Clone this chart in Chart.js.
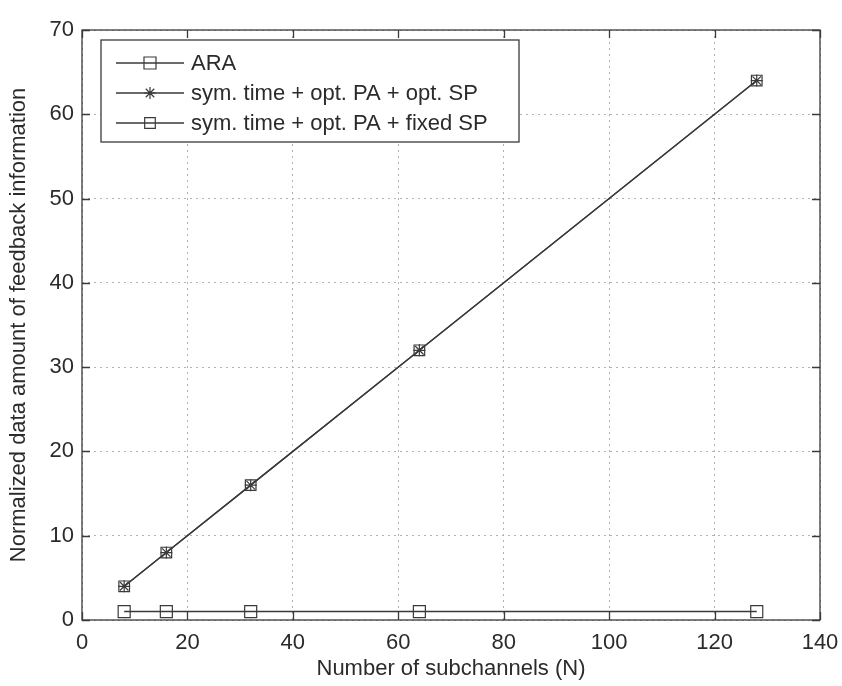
<!DOCTYPE html>
<html>
<head>
<meta charset="utf-8">
<script src="https://cdn.jsdelivr.net/npm/chart.js@4.4.0/dist/chart.umd.min.js"></script>
<style>
  html, body { margin: 0; padding: 0; background: #ffffff; }
  #wrap { width: 842px; height: 686px; }
</style>
</head>
<body>
<div id="wrap"><canvas id="chart" width="842" height="686"></canvas></div>
<script>
// number of subchannels N
const subchannels = [8, 16, 32, 64, 128];
// normalized feedback amount per scheme
const araFeedback = [1, 1, 1, 1, 1];
const optSpFeedback = [4, 8, 16, 32, 64];
const fixedSpFeedback = [4, 8, 16, 32, 64];

const xTicks = [0, 20, 40, 60, 80, 100, 120, 140];
const yTicks = [0, 10, 20, 30, 40, 50, 60, 70];

const FONT = "'Liberation Sans', Arial, Helvetica, sans-serif";
const INK = '#2b2b2b';
const LINE = '#3a3a3a';

const toPoints = (ys) => subchannels.map((n, i) => ({ x: n, y: ys[i] }));

// axes box with inward ticks on all four sides (MATLAB style)
const boxPlugin = {
    id: 'box',
    afterDatasetsDraw(chart) {
        const { ctx, chartArea: a, scales } = chart;
        const len = 8;
        ctx.save();
        ctx.strokeStyle = LINE;
        ctx.lineWidth = 1.3;
        ctx.setLineDash([]);
        ctx.strokeRect(a.left, a.top, a.right - a.left, a.bottom - a.top);
        ctx.beginPath();
        xTicks.forEach(v => {
            const px = Math.round(scales.x.getPixelForValue(v)) + 0.5;
            ctx.moveTo(px, a.bottom); ctx.lineTo(px, a.bottom - len);
            ctx.moveTo(px, a.top); ctx.lineTo(px, a.top + len);
        });
        yTicks.forEach(v => {
            const py = Math.round(scales.y.getPixelForValue(v)) + 0.5;
            ctx.moveTo(a.left, py); ctx.lineTo(a.left + len, py);
            ctx.moveTo(a.right, py); ctx.lineTo(a.right - len, py);
        });
        ctx.stroke();
        ctx.restore();
    }
};

// boxed legend in the upper left corner of the plot
const legendBox = {
    id: 'legendBox',
    afterDraw(chart) {
        const { ctx, chartArea: a } = chart;
        const left = a.left + 19, top = a.top + 10, w = 418, h = 102;
        ctx.save();
        ctx.fillStyle = '#ffffff';
        ctx.fillRect(left, top, w, h);
        ctx.strokeStyle = LINE;
        ctx.lineWidth = 1.3;
        ctx.strokeRect(left, top, w, h);
        chart.data.datasets.forEach((ds, i) => {
            const y = top + 23 + i * 30;
            ctx.strokeStyle = ds.borderColor;
            ctx.lineWidth = ds.borderWidth;
            ctx.beginPath();
            ctx.moveTo(left + 15, y);
            ctx.lineTo(left + 83, y);
            ctx.stroke();
            ctx.fillStyle = 'rgba(0,0,0,0)';
            ctx.strokeStyle = ds.pointBorderColor;
            ctx.lineWidth = ds.pointBorderWidth;
            Chart.helpers.drawPoint(ctx, {
                pointStyle: ds.pointStyle, radius: ds.pointRadius,
                rotation: 0, borderWidth: ds.pointBorderWidth
            }, left + 49, y);
            ctx.fillStyle = INK;
            ctx.font = '22px ' + FONT;
            ctx.textBaseline = 'middle';
            ctx.fillText(ds.label, left + 90, y + 1);
        });
        ctx.restore();
    }
};

const series = (label, ys, style, radius) => ({
    label: label,
    data: toPoints(ys),
    borderColor: LINE,
    borderWidth: 1.4,
    pointStyle: style,
    pointRadius: radius,
    pointBorderColor: LINE,
    pointBorderWidth: 1.2,
    pointBackgroundColor: 'rgba(0,0,0,0)',
    fill: false,
    tension: 0
});

const tickFont = { family: FONT, size: 22 };

new Chart(document.getElementById('chart').getContext('2d'), {
    type: 'line',
    data: {
        datasets: [
            series('ARA', araFeedback, 'rect', 8.5),
            series('sym. time + opt. PA + opt. SP', optSpFeedback, 'star', 6),
            series('sym. time + opt. PA + fixed SP', fixedSpFeedback, 'rect', 7.5)
        ]
    },
    options: {
        responsive: false,
        animation: false,
        layout: { padding: { top: 30, right: 22, left: 0, bottom: 0 } },
        plugins: { legend: { display: false }, tooltip: { enabled: false } },
        scales: {
            x: {
                type: 'linear', min: 0, max: 140,
                afterBuildTicks: (s) => { s.ticks = xTicks.map(v => ({ value: v })); },
                ticks: { font: tickFont, color: INK, padding: 10, maxRotation: 0 },
                grid: { drawTicks: false, color: '#b2b2b2', lineWidth: 1, borderDash: [2, 4] },
                border: { display: false, dash: [2, 4] },
                title: {
                    display: true, text: 'Number of subchannels (N)',
                    font: { family: FONT, size: 22 }, color: INK,
                    padding: { top: 0, bottom: 4 }
                },
                afterFit: (s) => { s.height = 66; s.paddingLeft = 0; s.paddingRight = 0; }
            },
            y: {
                type: 'linear', min: 0, max: 70,
                afterBuildTicks: (s) => { s.ticks = yTicks.map(v => ({ value: v })); },
                ticks: { font: tickFont, color: INK, padding: 8 },
                grid: { drawTicks: false, color: '#b2b2b2', lineWidth: 1, borderDash: [2, 4] },
                border: { display: false, dash: [2, 4] },
                title: {
                    display: true, text: 'Normalized data amount of feedback information',
                    font: { family: FONT, size: 22 }, color: INK,
                    padding: { top: 6, bottom: 0 }
                },
                afterFit: (s) => { s.width = 82; s.paddingTop = 0; s.paddingBottom = 0; }
            }
        }
    },
    plugins: [boxPlugin, legendBox]
});
</script>
</body>
</html>
